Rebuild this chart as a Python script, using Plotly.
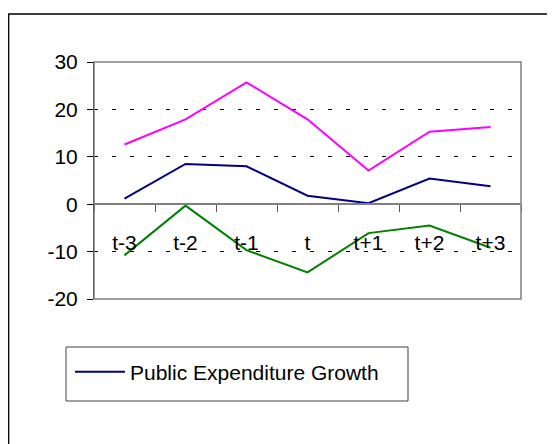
import plotly.graph_objects as go

periods = ["t-3", "t-2", "t-1", "t", "t+1", "t+2", "t+3"]
public_expenditure_growth = [1.2, 8.5, 8.0, 1.8, 0.2, 5.4, 3.8]
upper_series = [12.6, 17.9, 25.7, 17.9, 7.1, 15.3, 16.3]
lower_series = [-10.8, -0.3, -9.7, -14.4, -6.1, -4.5, -9.2]
y_ticks = [-20, -10, 0, 10, 20, 30]
y_tick_text = ["-20", "-10", "0", "10", "20", "30"]

W, H = 555, 444
OFF = 8  # the page body adds 8px around the figure
L, R, T, B = 94 - OFF, 34 + OFF, 62 - OFF, 145 + OFF
PW, PH = W - L - R, H - T - B


def px_x(x):
    # x in page pixels -> paper fraction
    return (x - OFF - L) / PW


def px_y(y):
    return (H - B - (y - OFF)) / PH


FONT = "Liberation Sans, Arial, sans-serif"

fig = go.Figure()
fig.add_trace(go.Scatter(x=periods, y=upper_series, mode="lines", name="Series 2",
                         line=dict(color="#FF00FF", width=2), showlegend=False))
fig.add_trace(go.Scatter(x=periods, y=lower_series, mode="lines", name="Series 3",
                         line=dict(color="#008000", width=2), showlegend=False))
fig.add_trace(go.Scatter(x=periods, y=public_expenditure_growth, mode="lines",
                         name="Public Expenditure Growth",
                         line=dict(color="#000080", width=2)))

fig.update_layout(
    width=W, height=H,
    margin=dict(l=L, r=R, t=T, b=B, pad=0),
    paper_bgcolor="white", plot_bgcolor="white",
    font=dict(family=FONT, size=21, color="black"),
    legend=dict(x=px_x(70), y=px_y(372), xanchor="left", yanchor="middle",
                bgcolor="rgba(0,0,0,0)", borderwidth=0,
                font=dict(family=FONT, size=21, color="black"), itemwidth=50),
    xaxis=dict(
        type="category", range=[-0.5, 6.5],
        anchor="free", position=0.4,
        showline=True, linecolor="#808080", linewidth=1.5,
        ticks="outside", tickson="boundaries", ticklen=7, tickcolor="#555555",
        ticklabelstandoff=20, showgrid=False, zeroline=False,
    ),
    yaxis=dict(
        range=[-20, 30], tickvals=y_ticks, ticktext=y_tick_text,
        showline=True, linecolor="black", linewidth=1,
        ticks="outside", ticklen=6, tickcolor="black", ticklabelstandoff=5,
        showgrid=True, gridcolor="black", gridwidth=1, griddash="4px,14px",
        zeroline=False,
    ),
    shapes=[
        # plot area frame
        dict(type="rect", xref="paper", yref="paper", x0=0, x1=1, y0=0, y1=1,
             line=dict(color="#808080", width=1.5), layer="above"),
        # outer chart border
        dict(type="rect", xref="paper", yref="paper",
             x0=px_x(8.7), x1=px_x(W + 20), y0=px_y(H + 20), y1=px_y(14),
             line=dict(color="black", width=1.3)),
        # legend box
        dict(type="rect", xref="paper", yref="paper",
             x0=px_x(66), x1=px_x(408), y0=px_y(401), y1=px_y(347),
             line=dict(color="#404040", width=1)),
    ],
)

fig.write_html("out.html")
